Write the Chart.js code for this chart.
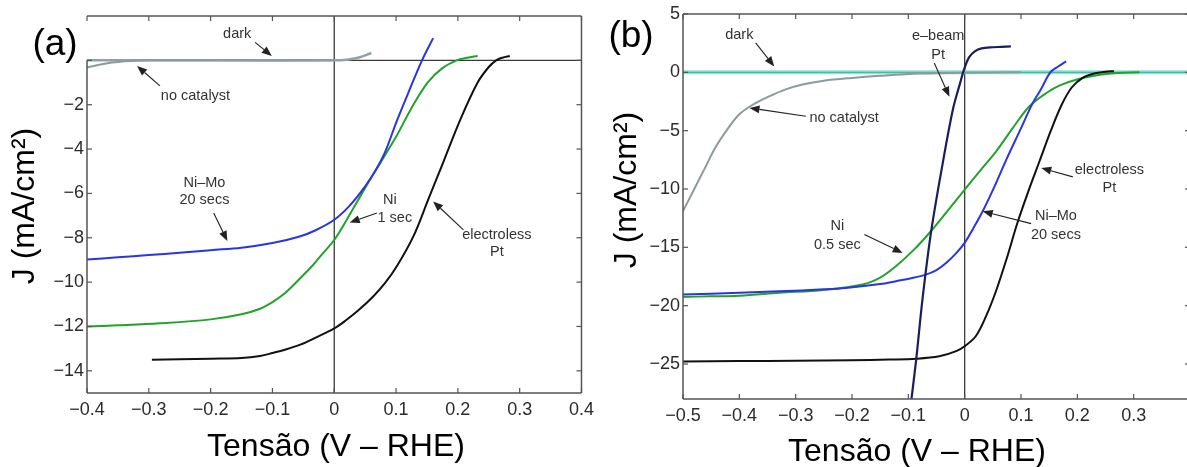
<!DOCTYPE html>
<html><head><meta charset="utf-8">
<script src="https://cdn.jsdelivr.net/npm/chart.js@4.4.1/dist/chart.umd.min.js"></script>
<style>
html,body{margin:0;padding:0;background:#fff;overflow:hidden;width:1187px;height:467px;}
#ca{position:absolute;left:0;top:0;}
#cb{position:absolute;left:600px;top:0;}
</style></head><body>
<canvas id="ca" width="600" height="467"></canvas>
<canvas id="cb" width="600" height="467"></canvas>
<script>
// ---------- Panel (a) data: [V vs RHE, J mA/cm2] ----------
const aDark   = [[-0.4,0.0],[-0.2,0.0],[0.0,0.0],[0.02,0.03],[0.04,0.13],[0.06,0.33]];
const aNoCat  = [[-0.4,-0.32],[-0.38,-0.2],[-0.36,-0.1],[-0.33,-0.03],[-0.3,0.0],[-0.1,0.0],[0.0,0.0]];
const aNiMo   = [[-0.4,-8.98],[-0.35,-8.88],[-0.3,-8.78],[-0.25,-8.68],[-0.2,-8.56],[-0.15,-8.45],[-0.1,-8.24],[-0.056,-7.94],[-0.03,-7.66],[0.0,-7.19],[0.025,-6.55],[0.05,-5.68],[0.066,-5.0],[0.082,-4.15],[0.101,-2.75],[0.12,-1.45],[0.142,0.0],[0.16,1.0]];
const aNi     = [[-0.4,-12.0],[-0.35,-11.95],[-0.282,-11.86],[-0.2,-11.68],[-0.15,-11.45],[-0.12,-11.2],[-0.1,-10.9],[-0.08,-10.5],[-0.056,-9.85],[-0.035,-9.25],[-0.018,-8.69],[0.0,-8.1],[0.02,-7.2],[0.05,-5.75],[0.075,-4.6],[0.1,-3.45],[0.124,-2.2],[0.151,-1.0],[0.175,-0.35],[0.198,0.0],[0.215,0.12],[0.232,0.2]];
const aPt     = [[-0.295,-13.5],[-0.25,-13.48],[-0.2,-13.45],[-0.15,-13.42],[-0.12,-13.33],[-0.1,-13.2],[-0.08,-13.05],[-0.055,-12.82],[-0.03,-12.5],[0.0,-12.09],[0.02,-11.7],[0.04,-11.25],[0.063,-10.65],[0.082,-10.05],[0.101,-9.3],[0.128,-7.94],[0.152,-6.28],[0.177,-4.55],[0.204,-2.67],[0.232,-1.0],[0.25,-0.3],[0.262,0.0],[0.272,0.12],[0.284,0.2]];
const aXTicks = [-0.4,-0.3,-0.2,-0.1,0,0.1,0.2,0.3,0.4];
const aYTicks = [-14,-12,-10,-8,-6,-4,-2];
const aYMarks = [-14,-12,-10,-8,-6,-4,-2,0];

// ---------- Panel (b) data ----------
const bDark   = [[-0.5,0.0],[0.4,0.0]];
const bNoCat  = [[-0.5,-11.9],[-0.48,-10.0],[-0.46,-8.1],[-0.442,-6.4],[-0.42,-4.8],[-0.4,-3.6],[-0.377,-2.8],[-0.347,-2.06],[-0.32,-1.5],[-0.288,-1.05],[-0.25,-0.72],[-0.2,-0.48],[-0.15,-0.3],[-0.08,-0.11],[0.0,-0.03],[0.1,0.0]];
const bNi     = [[-0.5,-19.25],[-0.45,-19.2],[-0.4,-19.15],[-0.329,-18.9],[-0.25,-18.65],[-0.181,-18.19],[-0.15,-17.6],[-0.122,-16.62],[-0.09,-15.2],[-0.06,-13.62],[-0.03,-11.85],[0.0,-10.05],[0.028,-8.4],[0.056,-6.77],[0.085,-4.8],[0.115,-2.91],[0.145,-1.77],[0.17,-1.1],[0.204,-0.55],[0.24,-0.2],[0.27,-0.05],[0.31,0.0]];
const bNiMo   = [[-0.5,-19.05],[-0.4,-18.9],[-0.329,-18.77],[-0.25,-18.6],[-0.211,-18.48],[-0.15,-18.15],[-0.122,-17.9],[-0.095,-17.65],[-0.069,-17.34],[-0.05,-16.95],[-0.033,-16.35],[-0.015,-15.5],[0.0,-14.62],[0.015,-13.4],[0.032,-11.91],[0.05,-10.1],[0.074,-7.48],[0.098,-5.0],[0.121,-2.62],[0.135,-1.5],[0.152,0.0],[0.166,0.5],[0.18,0.94]];
const bPtEbeam= [[-0.097,-29],[-0.086,-24.6],[-0.075,-19.5],[-0.06,-13.8],[-0.039,-7.8],[-0.021,-3.2],[-0.008,-0.9],[0.0,0.4],[0.008,1.3],[0.018,1.8],[0.03,2.05],[0.05,2.15],[0.065,2.18],[0.082,2.22]];
const bPtEless= [[-0.5,-24.78],[-0.4,-24.75],[-0.3,-24.72],[-0.2,-24.68],[-0.134,-24.62],[-0.086,-24.55],[-0.045,-24.34],[-0.015,-23.9],[0.0,-23.48],[0.02,-22.6],[0.038,-20.9],[0.056,-18.7],[0.075,-15.9],[0.093,-13.0],[0.113,-10.2],[0.133,-7.6],[0.153,-5.0],[0.172,-2.8],[0.19,-1.3],[0.21,-0.45],[0.23,-0.1],[0.25,0.05],[0.265,0.1]];
const bXTicks = [-0.5,-0.4,-0.3,-0.2,-0.1,0,0.1,0.2,0.3];
const bXMarks = [-0.5,-0.4,-0.3,-0.2,-0.1,0,0.1,0.2,0.3,0.4];
const bYTicks = [-25,-20,-15,-10,-5,0,5];

// ---------- annotations (text, data x, data y) ----------
const aNotes = [["dark",-0.157,1.19],["no catalyst",-0.2245,-1.61],["Ni–Mo",-0.21,-5.55],["20 secs",-0.21,-6.3],["Ni",0.090,-6.28],["1 sec",0.098,-7.11],["electroless",0.263,-7.86],["Pt",0.263,-8.62]];
const aArrows = [[-0.128,0.81,-0.101,0.2],[-0.282,-1.15,-0.319,-0.25],[-0.195,-6.88,-0.173,-8.15],[0.069,-6.88,0.025,-7.31],[0.209,-7.64,0.160,-6.36]];
const bNotes = [["dark",-0.40,3.23],["no catalyst",-0.214,-3.91],["e–beam",-0.047,3.09],["Pt",-0.047,1.51],["electroless",0.257,-8.34],["Pt",0.257,-9.91],["Ni–Mo",0.162,-12.34],["20 secs",0.162,-13.91],["Ni",-0.226,-13.2],["0.5 sec",-0.226,-14.77]];
const bArrows = [[-0.371,2.52,-0.338,0.51],[-0.282,-3.77,-0.382,-3.05],[-0.054,0.8,-0.027,-2.1],[0.192,-8.96,0.136,-8.2],[0.118,-12.97,0.032,-11.91],[-0.178,-13.9,-0.110,-15.48]];

const FONT = '"Liberation Sans", Arial, Helvetica, sans-serif';
const minus = s => s.replace('-', '−');
const fmtX = v => Math.abs(v) < 1e-9 ? '0' : minus(v.toFixed(1));
const fmtY = v => minus(String(Math.round(v)));

function line(ctx,x1,y1,x2,y2){ctx.beginPath();ctx.moveTo(x1,y1);ctx.lineTo(x2,y2);ctx.stroke();}

const decor = {
  id: 'decor',
  beforeDatasetsDraw(chart, args, o) {
    const {ctx, chartArea: ca, scales: {x, y}} = chart;
    ctx.save();
    ctx.strokeStyle = '#3a3a3a'; ctx.lineWidth = 1.3;
    const x0 = x.getPixelForValue(0), y0 = y.getPixelForValue(0);
    line(ctx, x0, ca.top, x0, ca.bottom);
    line(ctx, ca.left, y0, ca.right, y0);
    ctx.restore();
  },
  afterDatasetsDraw(chart, args, o) {
    const {ctx, chartArea: ca, scales: {x, y}} = chart;
    ctx.save();
    ctx.strokeStyle = '#555'; ctx.lineWidth = 1.5;
    const leftTop = o.leftFromZero ? y.getPixelForValue(0) : ca.top;
    line(ctx, ca.left, leftTop, ca.left, ca.bottom);
    line(ctx, ca.left, ca.bottom, ca.right, ca.bottom);
    line(ctx, ca.right, ca.top, ca.right, ca.bottom);
    line(ctx, ca.left, ca.top, ca.right, ca.top);
    ctx.lineWidth = 1.2; const L = 5;
    o.xMarks.forEach(v => { const p = x.getPixelForValue(v);
      line(ctx, p, ca.bottom, p, ca.bottom - L); line(ctx, p, ca.top, p, ca.top + L); });
    o.yMarks.forEach(v => { const p = y.getPixelForValue(v);
      line(ctx, ca.left, p, ca.left + L, p); line(ctx, ca.right, p, ca.right - L, p); });
    // annotations
    ctx.fillStyle = '#333'; ctx.font = '14.5px ' + FONT;
    ctx.textAlign = 'center'; ctx.textBaseline = 'middle';
    o.notes.forEach(n => ctx.fillText(n[0], x.getPixelForValue(n[1]), y.getPixelForValue(n[2])));
    ctx.strokeStyle = '#222'; ctx.fillStyle = '#222'; ctx.lineWidth = 1.1;
    o.arrows.forEach(a => {
      const x1 = x.getPixelForValue(a[0]), y1 = y.getPixelForValue(a[1]);
      const x2 = x.getPixelForValue(a[2]), y2 = y.getPixelForValue(a[3]);
      const ang = Math.atan2(y2 - y1, x2 - x1), H = 10, W = 4;
      const bx = x2 - H * Math.cos(ang), by = y2 - H * Math.sin(ang);
      line(ctx, x1, y1, bx, by);
      ctx.beginPath(); ctx.moveTo(x2, y2);
      ctx.lineTo(bx + W * Math.sin(ang), by - W * Math.cos(ang));
      ctx.lineTo(bx - W * Math.sin(ang), by + W * Math.cos(ang));
      ctx.closePath(); ctx.fill();
    });
    ctx.restore();
  },
  afterDraw(chart, args, o) {
    const ctx = chart.ctx;
    ctx.save();
    ctx.fillStyle = '#000'; ctx.textAlign = 'center'; ctx.textBaseline = 'middle';
    ctx.font = '32px ' + FONT;
    ctx.fillText(o.xTitle[0], o.xTitle[1], o.xTitle[2]);
    ctx.save(); ctx.translate(o.yTitle[1], o.yTitle[2]); ctx.rotate(-Math.PI / 2);
    ctx.fillText(o.yTitle[0], 0, 0); ctx.restore();
    ctx.font = '37px ' + FONT;
    ctx.fillText(o.tag[0], o.tag[1], o.tag[2]);
    ctx.restore();
  }
};

function ds(pts, color, width) {
  return { data: pts.map(p => ({x: p[0], y: p[1]})), borderColor: color, borderWidth: width,
           pointRadius: 0, fill: false, tension: 0.35 };
}

function makeChart(id, c) {
  return new Chart(document.getElementById(id), {
    type: 'line',
    data: { datasets: c.datasets },
    options: {
      responsive: false, animation: false, devicePixelRatio: 1,
      layout: { autoPadding: false, padding: { left: 0, top: c.top, right: c.right, bottom: 0 } },
      plugins: { legend: { display: false }, tooltip: { enabled: false }, decor: c.decor },
      scales: {
        x: { type: 'linear', min: c.xMin, max: c.xMax,
             afterBuildTicks: s => { s.ticks = c.xTicks.map(v => ({value: v})); },
             afterFit: s => { s.height = c.xH; },
             grid: { display: false, drawTicks: false }, border: { display: false },
             ticks: { callback: fmtX, font: { family: FONT, size: 18 }, color: '#2b2b2b', padding: 6, maxRotation: 0, autoSkip: false } },
        y: { type: 'linear', min: c.yMin, max: c.yMax,
             afterBuildTicks: s => { s.ticks = c.yTicks.map(v => ({value: v})); },
             afterFit: s => { s.width = c.yW; },
             grid: { display: false, drawTicks: false }, border: { display: false },
             ticks: { callback: fmtY, font: { family: FONT, size: 18 }, color: '#2b2b2b', padding: 3, autoSkip: false } }
      }
    },
    plugins: [decor]
  });
}

makeChart('ca', {
  datasets: [ds(aNiMo, '#2a35e2', 2), ds(aNi, '#23a22a', 2), ds(aPt, '#111111', 2),
             ds(aNoCat, '#8a9a9d', 2), ds(aDark, '#8fa3a6', 2.5)],
  xMin: -0.4, xMax: 0.4, yMin: -15, yMax: 2, xTicks: aXTicks, yTicks: aYTicks,
  top: 16, right: 18, xH: 74, yW: 87,
  decor: { xMarks: aXTicks, yMarks: aYMarks, leftFromZero: true, notes: aNotes, arrows: aArrows,
           xTitle: ['Tensão (V – RHE)', 336, 447], yTitle: ['J (mA/cm²)', 25, 206], tag: ['(a)', 55, 45] }
});

makeChart('cb', {
  datasets: [ds(bPtEbeam, '#1c1c5e', 2.2), ds(bPtEless, '#111111', 2), ds(bNiMo, '#2a35e2', 2),
             ds(bNi, '#23a22a', 2), ds(bNoCat, '#8d999c', 2), ds(bDark, 'rgba(100,220,200,0.75)', 4)],
  xMin: -0.5, xMax: 0.4, yMin: -28, yMax: 5, xTicks: bXTicks, yTicks: bYTicks,
  top: 14, right: 10, xH: 68, yW: 83,
  decor: { xMarks: bXMarks, yMarks: bYTicks, leftFromZero: false, notes: bNotes, arrows: bArrows,
           xTitle: ['Tensão (V – RHE)', 317, 452], yTitle: ['J (mA/cm²)', 27, 190], tag: ['(b)', 31, 37] }
});
</script>
</body></html>
